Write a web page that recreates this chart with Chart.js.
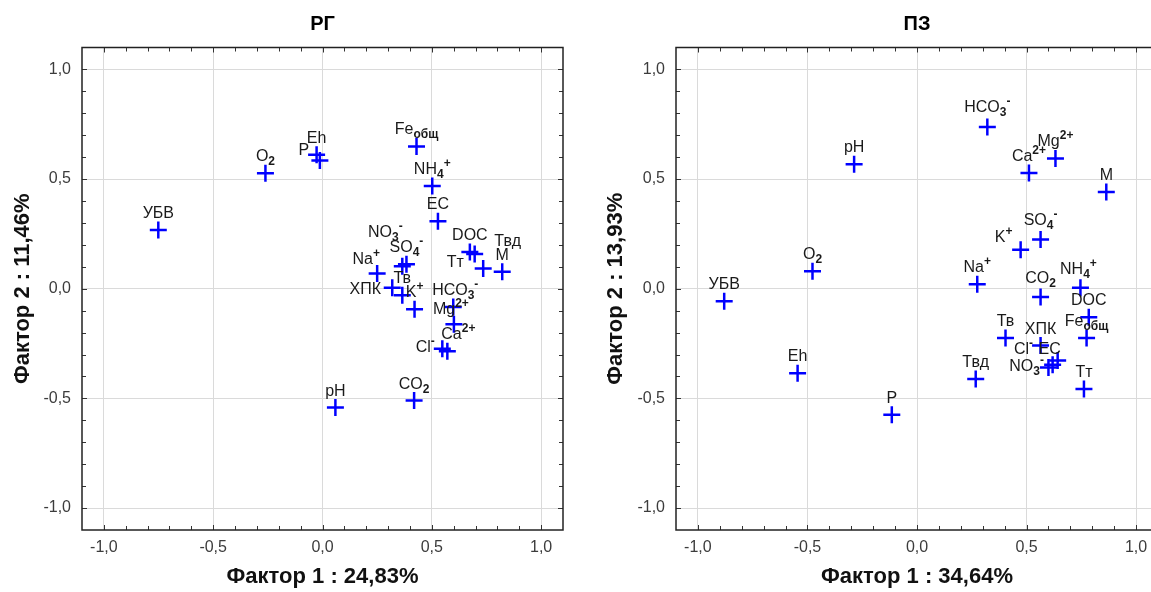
<!DOCTYPE html>
<html><head><meta charset="utf-8">
<script src="https://cdn.jsdelivr.net/npm/chart.js@4.4.1/dist/chart.umd.min.js"></script>
<style>
html,body{margin:0;padding:0;background:#fff;overflow:hidden;width:1151px;height:592px;position:relative;}
canvas{position:absolute;top:0;}
#c1{left:0;}
#c2{left:590px;}
</style></head><body>
<canvas id="c1" width="590" height="592"></canvas>
<canvas id="c2" width="600" height="592"></canvas>
<script>
// ---- data ----
const variables = ['УБВ','O_2','Eh','P','Fe_общ','NH_4^+','EC','NO_3^-','SO_4^-','Na^+','ХПК','Тв','K^+','HCO_3^-','Mg^2+','Ca^2+','Cl^-','DOC','Твд','Тт','M','pH','CO_2'];
const rgFactor1 = [-0.751,-0.261,-0.027,-0.012,0.430,0.502,0.528,0.365,0.384,0.250,0.319,0.365,0.421,0.598,0.601,0.571,0.548,0.674,0.696,0.735,0.822,0.059,0.419];
const rgFactor2 = [0.268,0.527,0.611,0.585,0.649,0.469,0.308,0.103,0.112,0.070,0.005,-0.030,-0.094,-0.083,-0.162,-0.285,-0.274,0.168,0.158,0.092,0.077,-0.542,-0.510];
const pzFactor1 = [-0.880,-0.477,-0.545,-0.115,0.774,0.746,0.642,0.619,0.564,0.275,0.564,0.404,0.473,0.321,0.632,0.511,0.600,0.784,0.268,0.762,0.864,-0.287,0.564];
const pzFactor2 = [-0.057,0.080,-0.385,-0.574,-0.224,0.005,-0.327,-0.346,0.224,0.020,-0.259,-0.224,0.178,0.738,0.594,0.528,-0.359,-0.130,-0.411,-0.457,0.441,0.568,-0.038];
const majorTicks = [-1.0,-0.5,0.0,0.5,1.0];
const titles = ['РГ','ПЗ'];
const xTitles = ['Фактор 1 : 24,83%','Фактор 1 : 34,64%'];
const yTitles = ['Фактор 2 : 11,46%','Фактор 2 : 13,93%'];

// ---- label placement (pixel nudges, style only) ----
const defaultNudge = [0,-18];
const rgNudge = {'P':[-16,-11],'Тт':[-28,-8],'Твд':[33,-14],'NO_3^-':[-17,-35],'Na^+':[-11,-15],'ХПК':[-27,0],'Cl^-':[-17,-3],'Mg^2+':[-3,-16],'Ca^2+':[11,-18],'HCO_3^-':[2,-18]};
const pzNudge = {'K^+':[-17,-14],'Cl^-':[-25,-19],'EC':[-8,-12],'NO_3^-':[-26,0],'HCO_3^-':[0,-21],'SO_4^-':[0,-21],'CO_2':[0,-20],'NH_4^+':[-2,-20]};

const FONT = "'Liberation Sans', Arial, sans-serif";
Chart.defaults.font.family = FONT;

function parseLabel(s){
  const segs=[]; let mode='n', cur='';
  for(const ch of s){
    if(ch==='_'||ch==='^'){ if(cur) segs.push({t:cur,k:mode}); cur=''; mode = ch==='_'?'sub':'sup'; }
    else cur+=ch;
  }
  if(cur) segs.push({t:cur,k:mode});
  return segs;
}
function segFont(k){ return k==='n' ? "16px "+FONT : "bold 12px "+FONT; }

const labelPlugin = {
  id:'pointLabels',
  afterDatasetsDraw(chart, args, opts){
    const ctx=chart.ctx; const meta=chart.getDatasetMeta(0);
    ctx.save(); ctx.fillStyle='#1a1a1a'; ctx.textBaseline='alphabetic'; ctx.textAlign='left';
    meta.data.forEach((pt,i)=>{
      const name=opts.names[i]; const nd=opts.nudge[name]||defaultNudge;
      const segs=parseLabel(name);
      let w=0; segs.forEach(sg=>{ctx.font=segFont(sg.k); sg.w=ctx.measureText(sg.t).width; w+=sg.w;});
      let x=pt.x+nd[0]-w/2; const base=pt.y+nd[1]+6;
      segs.forEach(sg=>{ ctx.font=segFont(sg.k); const dy = sg.k==='sub'?4:(sg.k==='sup'?-7:0); ctx.fillText(sg.t,x,base+dy); x+=sg.w; });
    });
    ctx.restore();
  }
};
const framePlugin = {
  id:'frame',
  afterDraw(chart){
    const {ctx, chartArea:a, scales:{x,y}} = chart;
    ctx.save(); ctx.strokeStyle='#333'; ctx.lineWidth=1;
    ctx.beginPath();
    for(let i=-10;i<=10;i++){
      const v=i/10, len = (i%5===0)?5:4;
      const px=Math.round(x.getPixelForValue(v))+0.5, py=Math.round(y.getPixelForValue(v))+0.5;
      ctx.moveTo(px,a.top); ctx.lineTo(px,a.top+len);
      ctx.moveTo(px,a.bottom); ctx.lineTo(px,a.bottom-len);
      ctx.moveTo(a.left,py); ctx.lineTo(a.left+len,py);
      ctx.moveTo(a.right,py); ctx.lineTo(a.right-len,py);
    }
    ctx.stroke();
    ctx.lineWidth=1.5; ctx.strokeStyle='#222';
    ctx.strokeRect(a.left,a.top,a.right-a.left,a.bottom-a.top);
    ctx.restore();
  }
};

function isMajor(v){ return majorTicks.some(m=>Math.abs(m-v)<1e-6); }
function fmt(v){ return (Math.round(v*10)/10).toFixed(1).replace('.',','); }

function makeChart(id, xs, ys, nudge, idx, geom){
  const pts = xs.map((v,i)=>({x:v,y:ys[i]}));
  return new Chart(document.getElementById(id),{
    type:'scatter',
    data:{datasets:[{data:pts, pointStyle:'cross', pointRadius:8.5, pointHoverRadius:8.5, borderColor:'#0000ff', backgroundColor:'#0000ff', borderWidth:2.5, pointBorderWidth:2.5}]},
    options:{
      responsive:false, animation:false, devicePixelRatio:1,
      layout:{padding:{left:0,right:geom.padRight,top:0,bottom:0}},
      plugins:{
        legend:{display:false}, tooltip:{enabled:false},
        title:{display:true, text:titles[idx], fullSize:false, color:'#000', font:{size:20, weight:'bold', lineHeight:1.2}, padding:{top:12,bottom:11.5}},
        pointLabels:{names:variables, nudge:nudge}
      },
      scales:{
        x:{type:'linear', min:-1.1, max:1.1,
           afterBuildTicks(s){ s.ticks = [-1.1,-1.0,-0.9,-0.8,-0.7,-0.6,-0.5,-0.4,-0.3,-0.2,-0.1,0,0.1,0.2,0.3,0.4,0.5,0.6,0.7,0.8,0.9,1.0,1.1].map(v=>({value:v})); },
           afterFit(s){ s.height = 62; },
           ticks:{autoSkip:false, maxRotation:0, padding:8, color:'#3c3c3c', font:{size:16}, callback:(v)=> isMajor(v)?fmt(v):''},
           grid:{drawTicks:false, color:(c)=> (c.tick && isMajor(c.tick.value))?'#dadada':'rgba(0,0,0,0)', lineWidth:1},
           border:{display:false},
           title:{display:true, text:xTitles[idx], color:'#111', font:{size:22, weight:'bold', lineHeight:1.2}, padding:{top:0,bottom:2}}
        },
        y:{type:'linear', min:-1.1, max:1.1,
           afterBuildTicks(s){ s.ticks = [-1.1,-1.0,-0.9,-0.8,-0.7,-0.6,-0.5,-0.4,-0.3,-0.2,-0.1,0,0.1,0.2,0.3,0.4,0.5,0.6,0.7,0.8,0.9,1.0,1.1].map(v=>({value:v})); },
           afterFit(s){ s.width = geom.yWidth; },
           ticks:{autoSkip:false, padding:11, color:'#3c3c3c', font:{size:16}, callback:(v)=> isMajor(v)?fmt(v):''},
           grid:{drawTicks:false, color:(c)=> (c.tick && isMajor(c.tick.value))?'#dadada':'rgba(0,0,0,0)', lineWidth:1},
           border:{display:false},
           title:{display:true, text:yTitles[idx], color:'#111', font:{size:22, weight:'bold', lineHeight:1.2}, padding:{top:geom.yTitlePad,bottom:0}}
        }
      }
    },
    plugins:[labelPlugin, framePlugin]
  });
}
makeChart('c1', rgFactor1, rgFactor2, rgNudge, 0, {padRight:27, yWidth:82, yTitlePad:10});
makeChart('c2', pzFactor1, pzFactor2, pzNudge, 1, {padRight:32, yWidth:86, yTitlePad:13});
</script>
</body></html>
